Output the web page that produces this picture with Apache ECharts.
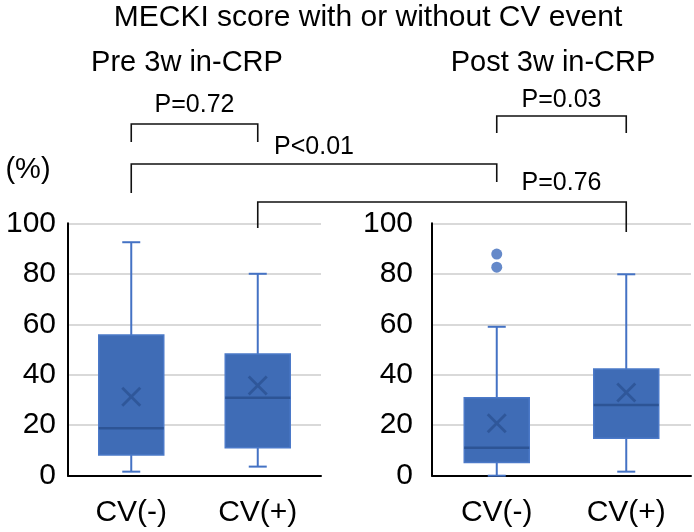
<!DOCTYPE html>
<html><head><meta charset="utf-8">
<script src="https://cdn.jsdelivr.net/npm/echarts@6/dist/echarts.min.js"></script>
<style>html,body{margin:0;padding:0;background:#fff}#c{width:694px;height:532px}</style>
</head><body><div id="c"></div>
<script>
const titleText = 'MECKI score with or without CV event';
const panelTitles = ['Pre 3w in-CRP', 'Post 3w in-CRP'];
const categories = ['CV(-)', 'CV(+)'];
const yTicks = [0, 20, 40, 60, 80, 100];
// [min, Q1, median, Q3, max]
const preBox = [[1.6, 8.2, 18.8, 55.7, 92.5], [3.6, 11.1, 30.9, 48.2, 80]];
const postBox = [[0, 5.2, 11.1, 30.9, 59], [1.6, 14.8, 28, 42.3, 79.8]];
const preMean = [31.3, 35.7];
const postMean = [20.8, 33];
const postOutliers = [['CV(-)', 87.8], ['CV(-)', 82.6]];
const pValues = ['P=0.72', 'P<0.01', 'P=0.76', 'P=0.03'];

const FONT = "'Liberation Sans', Arial, sans-serif";
const BLUE = '#3F6CB6';
const WHISK = '#4472C4';
const DARK = '#2D5495';
const XPATH = 'path://M0,1 L1,0 L5,4 L9,0 L10,1 L6,5 L10,9 L9,10 L5,6 L1,10 L0,9 L4,5 Z';

const chart = echarts.init(document.getElementById('c'));

function xAxisCfg(gi) {
  return {
    type: 'category', gridIndex: gi, data: categories,
    axisLine: { lineStyle: { color: '#000', width: 2 } },
    axisTick: { show: false },
    axisLabel: { color: '#000', fontSize: 30, fontFamily: FONT, margin: 22 },
    splitLine: { show: false }
  };
}
function yAxisCfg(gi, margin) {
  return {
    type: 'value', gridIndex: gi, min: 0, max: 100, interval: 20,
    axisLine: { show: true, lineStyle: { color: '#000', width: 2 } },
    axisTick: { show: false },
    axisLabel: { color: '#000', fontSize: 30, fontFamily: FONT, margin: margin,
      formatter: v => yTicks.includes(v) ? String(v) : '' },
    splitLine: { lineStyle: { color: '#D9D9D9', width: 2 } }
  };
}
function renderBox(params, api) {
  const x = api.value(0);
  const pMin = api.coord([x, api.value(1)]);
  const pQ1 = api.coord([x, api.value(2)]);
  const pMed = api.coord([x, api.value(3)]);
  const pQ3 = api.coord([x, api.value(4)]);
  const pMax = api.coord([x, api.value(5)]);
  const cx = pMed[0], hw = 32.5, cw = 9;
  const ws = { stroke: WHISK, lineWidth: 2 };
  return { type: 'group', children: [
    { type: 'line', shape: { x1: cx, y1: pMin[1], x2: cx, y2: pQ1[1] }, style: ws },
    { type: 'line', shape: { x1: cx, y1: pQ3[1], x2: cx, y2: pMax[1] }, style: ws },
    { type: 'line', shape: { x1: cx - cw, y1: pMin[1], x2: cx + cw, y2: pMin[1] }, style: ws },
    { type: 'line', shape: { x1: cx - cw, y1: pMax[1], x2: cx + cw, y2: pMax[1] }, style: ws },
    { type: 'rect', shape: { x: cx - hw, y: pQ3[1], width: 2 * hw, height: pQ1[1] - pQ3[1] },
      style: { fill: BLUE, stroke: '#4B79C8', lineWidth: 1.5 } },
    { type: 'line', shape: { x1: cx - hw, y1: pMed[1], x2: cx + hw, y2: pMed[1] },
      style: { stroke: DARK, lineWidth: 2.5 } }
  ] };
}
function boxSeries(gi, data) {
  return {
    type: 'custom', xAxisIndex: gi, yAxisIndex: gi,
    data: data.map((b, i) => [i].concat(b)),
    encode: { x: 0, y: [1, 2, 3, 4, 5] },
    renderItem: renderBox, z: 2, silent: true
  };
}
function meanSeries(gi, data) {
  return {
    type: 'scatter', xAxisIndex: gi, yAxisIndex: gi,
    data: data, symbol: XPATH, symbolSize: 20,
    itemStyle: { color: DARK, opacity: 0.85 }, z: 4, silent: true
  };
}

chart.setOption({
  animation: false,
  grid: [
    { left: 68, top: 223.3, width: 253, height: 252.4 },
    { left: 432, top: 223.3, width: 259, height: 252.4 }
  ],
  xAxis: [xAxisCfg(0), xAxisCfg(1)],
  yAxis: [yAxisCfg(0, 12), yAxisCfg(1, 19)],
  series: [
    boxSeries(0, preBox), boxSeries(1, postBox),
    meanSeries(0, preMean), meanSeries(1, postMean),
    { type: 'scatter', xAxisIndex: 1, yAxisIndex: 1, data: postOutliers,
      symbol: 'circle', symbolSize: 11, itemStyle: { color: '#3E6BBC' }, z: 3, silent: true }
  ]
});

const xPre0 = chart.convertToPixel({ xAxisIndex: 0 }, categories[0]);
const xPre1 = chart.convertToPixel({ xAxisIndex: 0 }, categories[1]);
const xPost0 = chart.convertToPixel({ xAxisIndex: 1 }, categories[0]);
const xPost1 = chart.convertToPixel({ xAxisIndex: 1 }, categories[1]);

function bracket(x1, x2, yTop, yL, yR) {
  return { type: 'polyline', silent: true,
    shape: { points: [[x1, yL], [x1, yTop], [x2, yTop], [x2, yR]] },
    style: { stroke: '#111', lineWidth: 1.6, fill: null } };
}
function txt(t, x, y, size) {
  return { type: 'text', x: x, y: y, silent: true,
    style: { text: t, fontSize: size, fontFamily: FONT, fill: '#000',
      textAlign: 'center', textVerticalAlign: 'middle' } };
}

chart.setOption({
  graphic: [
    txt(titleText, 368, 18, 30),
    txt(panelTitles[0], 187, 63, 29),
    txt(panelTitles[1], 553, 63, 29),
    txt('(%)', 28, 170, 29),
    bracket(xPre0, xPre1, 124, 142, 142),
    bracket(xPre0, xPost0, 164, 193, 182),
    bracket(xPost0, xPost1, 116, 133, 133),
    bracket(xPre1, xPost1, 202, 228, 232),
    txt(pValues[0], (xPre0 + xPre1) / 2, 105, 25),
    txt(pValues[1], (xPre0 + xPost0) / 2, 147, 25),
    txt(pValues[3], (xPost0 + xPost1) / 2, 100, 25),
    txt(pValues[2], (xPost0 + xPost1) / 2, 183, 25)
  ]
});
</script>
</body></html>
